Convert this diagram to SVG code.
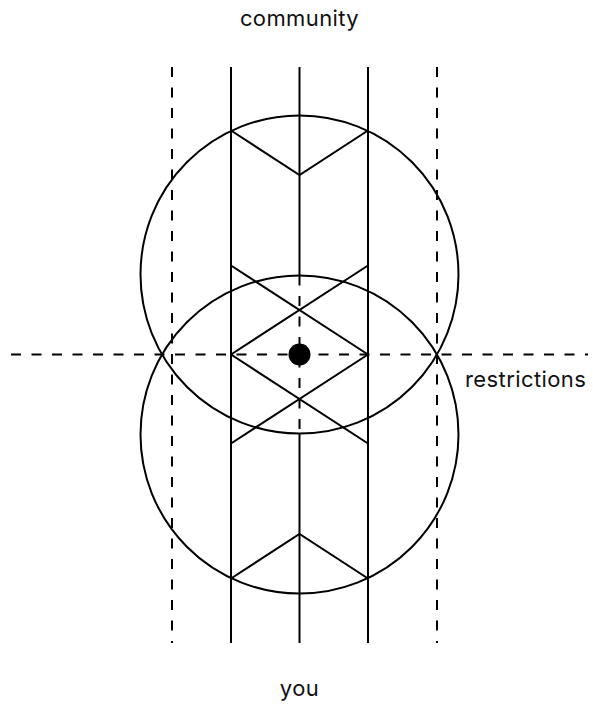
<svg xmlns="http://www.w3.org/2000/svg" width="593" height="706" viewBox="0 0 593 706">
<style>
.s{fill:none;stroke:#000;stroke-width:2}
.d{fill:none;stroke:#000;stroke-width:2;stroke-dasharray:10 10.5}
.t{font-family:Inter,"Liberation Sans",sans-serif;font-size:22px;letter-spacing:0.4px;fill:#111}
</style>
<rect width="593" height="706" fill="#fff"/>
<g id="connectors">
<line class="d" x1="172" y1="67" x2="172" y2="643"/>
<line class="d" x1="437" y1="67" x2="437" y2="643"/>
<line class="s" x1="231" y1="67" x2="231" y2="643"/>
<line class="s" x1="368" y1="67" x2="368" y2="643"/>
<line class="s" x1="299.5" y1="67" x2="299.5" y2="275.5"/>
<line class="d" x1="299.5" y1="275.5" x2="299.5" y2="433.5"/>
<line class="s" x1="299.5" y1="433.5" x2="299.5" y2="643"/>
<line class="d" x1="11" y1="354.5" x2="588" y2="354.5"/>
</g>
<g id="circle-top"><circle class="s" cx="299.5" cy="274.5" r="159"/></g>
<g id="circle-bottom"><circle class="s" cx="299.5" cy="434.5" r="159"/></g>
<g id="chevron-top"><path class="s" d="M231 130.5 L299.5 175 L368 130.5"/></g>
<g id="chevron-bottom"><path class="s" d="M231 578.5 L299.5 534 L368 578.5"/></g>
<g id="cross"><path class="s" d="M231 265.5 L368 354.5 M368 265.5 L231 354.5 M231 354.5 L368 443.5 M368 354.5 L231 443.5"/></g>
<g id="center-dot"><circle cx="299.5" cy="354.5" r="11" fill="#000"/></g>
<g id="label-community"><text class="t" x="299.5" y="26" text-anchor="middle">community</text></g>
<g id="label-restrictions"><text class="t" x="465" y="387">restrictions</text></g>
<g id="label-you"><text class="t" x="299.5" y="696" text-anchor="middle">you</text></g>
</svg>
